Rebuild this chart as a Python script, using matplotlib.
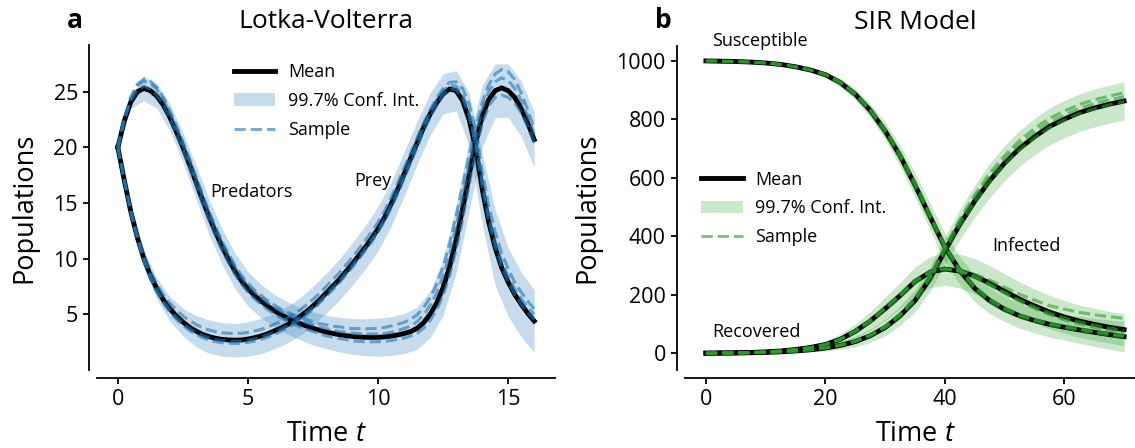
import numpy as np
import matplotlib as mpl
import matplotlib.pyplot as plt

mpl.rcParams['font.family'] = ['Open Sans', 'DejaVu Sans']
mpl.rcParams['mathtext.fontset'] = 'custom'
mpl.rcParams['mathtext.rm'] = 'Open Sans'
mpl.rcParams['mathtext.it'] = 'Open Sans:italic'

# Lotka-Volterra means, t = 0 .. 16 step 0.25
lv_t = np.arange(0, 16.01, 0.25)
pred_mean = [20.0, 22.4, 24.1, 25.0, 25.3, 25.1, 24.6, 23.8, 22.7, 21.4, 20.0, 18.5, 16.9, 15.3, 13.8, 12.4,
             11.1, 9.95, 8.9, 8.0, 7.3, 6.7, 6.2, 5.75, 5.35, 5.0, 4.7, 4.42, 4.17, 3.95, 3.75, 3.57,
             3.42, 3.29, 3.18, 3.09, 3.02, 2.97, 2.94, 2.93, 2.94, 2.98, 3.05, 3.15, 3.28, 3.45, 3.75, 4.25,
             5.0, 6.0, 7.4, 9.3, 11.7, 14.5, 17.5, 20.4, 22.8, 24.3, 25.1, 25.35, 25.1, 24.5, 23.5, 22.2,
             20.7]
prey_mean = [20.0, 17.0, 14.2, 11.9, 10.0, 8.5, 7.3, 6.3, 5.5, 4.85, 4.3, 3.85, 3.5, 3.2, 3.0, 2.85,
             2.75, 2.7, 2.68, 2.7, 2.78, 2.9, 3.05, 3.25, 3.5, 3.75, 4.05, 4.4, 4.8, 5.25, 5.75, 6.3,
             6.9, 7.5, 8.1, 8.8, 9.5, 10.25, 11.0, 11.8, 12.7, 13.7, 14.9, 16.2, 17.6, 19.0, 20.4, 21.8,
             23.0, 24.0, 24.8, 25.25, 25.1, 24.2, 22.5, 19.9, 16.3, 13.3, 11.0, 9.2, 7.9, 6.8, 5.9, 5.1,
             4.4]

# sample offsets from the mean, same time grid
pred_offsets = [
    [0, 0.2, 0.45, 0.7, 0.85, 0.85, 0.8, 0.7, 0.6, 0.55, 0.5, 0.5, 0.5, 0.5, 0.5, 0.5,
     0.5, 0.5, 0.5, 0.5, 0.5, 0.5, 0.5, 0.5, 0.5, 0.5, 0.5, 0.55, 0.55, 0.6, 0.6, 0.6,
     0.65, 0.65, 0.7, 0.7, 0.7, 0.75, 0.75, 0.8, 0.8, 0.85, 0.9, 0.95, 1.0, 1.1, 1.2, 1.35,
     1.5, 1.7, 1.9, 2.1, 2.2, 2.1, 1.8, 1.4, 1.2, 1.3, 1.5, 1.65, 1.7, 1.6, 1.4, 1.2, 1.0],
    [0, 0.15, 0.35, 0.55, 0.65, 0.65, 0.6, 0.5, 0.4, 0.35, 0.3, 0.3, 0.3, 0.3, 0.3, 0.3,
     0.3, 0.3, 0.3, 0.3, 0.3, 0.3, 0.3, 0.3, 0.3, 0.3, 0.3, 0.3, 0.3, 0.3, 0.3, 0.3,
     0.3, 0.3, 0.3, 0.3, 0.3, 0.3, 0.3, 0.3, 0.3, 0.3, 0.35, 0.4, 0.45, 0.5, 0.6, 0.7,
     0.8, 0.9, 1.0, 1.1, 1.2, 1.1, 0.9, 0.7, 0.6, 0.7, 0.8, 0.9, 0.9, 0.8, 0.7, 0.6, 0.5],
    [0, 0.05, 0.1, 0.15, 0.2, 0.15, 0.1, 0.0, -0.1, -0.2, -0.25, -0.3, -0.3, -0.3, -0.3, -0.3,
     -0.3, -0.3, -0.3, -0.3, -0.3, -0.3, -0.3, -0.3, -0.3, -0.3, -0.3, -0.3, -0.3, -0.3, -0.3, -0.3,
     -0.35, -0.35, -0.35, -0.35, -0.4, -0.4, -0.4, -0.4, -0.4, -0.4, -0.4, -0.4, -0.4, -0.4, -0.45, -0.5,
     -0.55, -0.6, -0.7, -0.8, -0.9, -1.0, -0.9, -0.8, -0.7, -0.6, -0.6, -0.65, -0.6, -0.5, -0.4, -0.3, -0.2],
]
prey_offsets = [
    [0, 0.1, 0.2, 0.25, 0.3, 0.35, 0.4, 0.45, 0.5, 0.55, 0.55, 0.6, 0.6, 0.6, 0.6, 0.6,
     0.6, 0.6, 0.6, 0.6, 0.6, 0.6, 0.6, 0.6, 0.6, 0.6, 0.6, 0.6, 0.6, 0.6, 0.6, 0.6,
     0.6, 0.6, 0.6, 0.6, 0.6, 0.6, 0.6, 0.6, 0.6, 0.6, 0.6, 0.6, 0.55, 0.5, 0.45, 0.4,
     0.4, 0.45, 0.5, 0.6, 0.8, 1.1, 1.4, 1.6, 1.6, 1.5, 1.4, 1.3, 1.2, 1.1, 1.1, 1.1, 1.1],
    [0, 0, 0, -0.05, -0.1, -0.1, -0.1, -0.1, -0.1, -0.1, -0.1, -0.1, -0.1, -0.1, -0.1, -0.1,
     -0.1, -0.1, -0.1, -0.1, -0.1, -0.1, -0.1, -0.1, -0.1, -0.1, -0.1, -0.1, -0.1, -0.1, -0.1, -0.1,
     -0.1, -0.1, -0.1, -0.1, -0.1, -0.1, -0.1, -0.1, -0.1, -0.1, -0.1, -0.1, -0.1, -0.1, -0.05, 0.0,
     0.1, 0.2, 0.3, 0.35, 0.4, 0.5, 0.6, 0.7, 0.7, 0.6, 0.55, 0.5, 0.5, 0.5, 0.5, 0.55, 0.6],
    [0, -0.05, -0.1, -0.15, -0.2, -0.25, -0.3, -0.3, -0.3, -0.3, -0.3, -0.3, -0.3, -0.3, -0.3, -0.3,
     -0.3, -0.3, -0.3, -0.3, -0.3, -0.3, -0.3, -0.3, -0.3, -0.3, -0.3, -0.3, -0.3, -0.3, -0.3, -0.3,
     -0.3, -0.3, -0.3, -0.3, -0.3, -0.3, -0.3, -0.3, -0.3, -0.3, -0.35, -0.4, -0.4, -0.4, -0.4, -0.35,
     -0.3, -0.2, -0.1, 0.0, 0.1, 0.2, 0.3, 0.3, 0.2, 0.1, 0.05, 0.0, 0.0, 0.0, 0.0, 0.05, 0.1],
]

# band half widths, t = 0 .. 16 step 0.5
lv_tb = np.arange(0, 16.01, 0.5)
pred_hw = [0, 0.6, 1.1, 1.1, 1.2, 1.35, 1.5, 1.6, 1.6, 1.6, 1.55, 1.5, 1.45, 1.45, 1.45, 1.5, 1.5,
           1.55, 1.6, 1.65, 1.7, 1.75, 1.8, 1.9, 2.1, 2.5, 3.0, 3.2, 2.8, 2.4, 2.4, 2.5, 2.5]
prey_hw = [0, 0.6, 0.8, 0.95, 1.1, 1.25, 1.4, 1.5, 1.5, 1.5, 1.55, 1.6, 1.6, 1.65, 1.7, 1.75, 1.8,
           1.85, 1.9, 1.95, 2.0, 2.0, 2.0, 1.95, 1.9, 1.8, 1.8, 2.4, 3.2, 3.4, 3.1, 2.9, 2.8]

# SIR, t = 0 .. 70 step 2.5
sir_t = np.arange(0, 70.01, 2.5)
sus_mean = [999, 998, 997, 995, 992, 987, 979, 968, 952, 925, 885, 830, 760, 675, 575, 468, 362,
            282, 222, 180, 150, 128, 112, 99, 89, 80, 72, 64, 57]
rec_mean = [0, 0.3, 1, 2, 3, 5, 8, 12, 18, 27, 40, 60, 88, 128, 180, 255, 350,
            440, 520, 590, 650, 700, 740, 775, 800, 822, 838, 851, 862]
inf_mean = [1, 1.7, 2, 3, 5, 8, 13, 20, 30, 48, 75, 110, 152, 197, 245, 277, 288,
            281, 264, 240, 212, 185, 162, 141, 124, 110, 99, 89, 81]
sus_hw = [2, 2, 3, 3, 4, 5, 6, 8, 10, 14, 18, 24, 30, 36, 42, 46, 48,
          48, 46, 44, 42, 42, 42, 43, 44, 46, 48, 50, 52]
rec_hw = [1, 1, 1, 1, 2, 2, 3, 5, 10, 13, 18, 23, 28, 33, 38, 43, 48,
          52, 55, 58, 60, 61, 62, 63, 64, 64, 65, 65, 65]
inf_hw = [1, 1, 1, 2, 3, 4, 6, 9, 12, 18, 25, 32, 40, 45, 50, 53, 55,
          58, 60, 60, 60, 59, 58, 57, 56, 55, 55, 54, 54]
sus_offsets = [
    [0, 0, 0, 0, 0, 0, -1, -1, -2, -3, -4, -6, -8, -9, -10, -9, -7, -7, -6, -5, -4, -4, -3, -3, -2, -2, -2, -2, -2],
    [0, 0, 0, 0, 0, 0, 0, 0, 1, 1, 2, 2, 4, 4, 5, 4, 4, 4, 4, 3, 3, 2, 2, 2, 2, 2, 2, 2, 2],
    [0, 0, 0, 0, 0, 0, 1, 1, 2, 3, 4, 6, 7, 8, 9, 9, 8, 7, 7, 6, 6, 5, 4, 4, 4, 4, 4, 4, 4],
]
rec_offsets = [
    [0, 0, 0, 0, 0, 0, 0, 0, 1, 1, 2, 3, 5, 7, 10, 12, 15, 18, 22, 25, 25, 27, 28, 28, 28, 28, 28, 28, 28],
    [0, 0, 0, 0, 0, 0, 0, 0, 0, 1, 1, 2, 2, 4, 5, 6, 8, 10, 12, 13, 13, 14, 15, 15, 15, 15, 15, 15, 15],
    [0, 0, 0, 0, 0, 0, 0, 0, 0, 0, 0, -1, -1, -2, -2, -3, -4, -4, -5, -5, -5, -5, -5, -4, -4, -3, -3, -2, -2],
]
inf_offsets = [
    [0, 0, 0, 0, 0, 0, 0, 0, -1, -2, -2, -3, -4, -4, -5, -3, -2, 2, 6, 10, 14, 17, 20, 22, 27, 30, 33, 36, 39],
    [0, 0, 0, 0, 0, 0, 0, 0, 0, 0, 1, 1, 2, 2, 2, 2, 1, 0, -2, -2, -3, -3, -3, -3, -3, -2, -2, -2, -2],
    [0, 0, 0, 0, 0, 0, 0, 0, 1, 1, 3, 3, 5, 5, 5, 4, 2, 0, -5, -7, -8, -8, -8, -9, -10, -10, -10, -11, -11],
]


def drawModel(ax, t, means, tb, bands, samples, color):
    for lo, hi in bands:
        ax.fill_between(tb, lo, hi, color=color, alpha=0.25, lw=0, label='99.7% Conf. Int.')
    for m in means:
        ax.plot(t, m, color='black', lw=3.5, label='Mean')
    for s in samples:
        ax.plot(t, s, color=color, lw=2.2, ls='--', alpha=0.6, label='Sample')


def addLegend(ax, anchor):
    handles, labels = ax.get_legend_handles_labels()
    order = ['Mean', '99.7% Conf. Int.', 'Sample']
    picked = [handles[labels.index(name)] for name in order]
    ax.legend(picked, order, loc='upper left', bbox_to_anchor=anchor, frameon=False, fontsize=13,
              handlelength=2.3, handletextpad=0.7, labelspacing=0.6)


def styleAxes(ax):
    for side in ['top', 'right']:
        ax.spines[side].set_visible(False)
    for side in ['left', 'bottom']:
        ax.spines[side].set_position(('outward', 5.8))
        ax.spines[side].set_linewidth(1.3)
    ax.tick_params(labelsize=15.5, width=1.3, length=4.5)
    ax.set_xlabel('Time $t$', fontsize=19.5, labelpad=7)
    ax.set_ylabel('Populations', fontsize=19.5, labelpad=11)


fig = plt.figure(figsize=(11.35, 4.48), dpi=100)
ax1 = fig.add_axes([0.0855, 0.1741, 0.4035, 0.7254])
ax2 = fig.add_axes([0.6035, 0.1741, 0.4053, 0.7239])

# a: Lotka-Volterra
lv_bands = []
lv_samples = []
for mean, hw, offsets in [(pred_mean, pred_hw, pred_offsets), (prey_mean, prey_hw, prey_offsets)]:
    mean = np.array(mean)
    lv_bands.append((mean[::2] - np.array(hw), mean[::2] + np.array(hw)))
    for off in offsets:
        lv_samples.append(mean + np.array(off))
drawModel(ax1, lv_t, [pred_mean, prey_mean], lv_tb, lv_bands, lv_samples, '#1f77b4')
ax1.set_xlim(-0.8, 16.8)
ax1.set_ylim(0.0, 29.2)
ax1.set_xticks([0, 5, 10, 15])
ax1.set_yticks([5, 10, 15, 20, 25])
styleAxes(ax1)
ax1.set_title('Lotka-Volterra', fontsize=19, pad=12)
ax1.text(3.55, 16.0, 'Predators', fontsize=13, va='center')
ax1.text(9.1, 17.0, 'Prey', fontsize=13, va='center')
addLegend(ax1, (0.2635, 0.994))

# b: SIR
sir_bands = []
sir_samples = []
for mean, hw, offsets in [(sus_mean, sus_hw, sus_offsets), (inf_mean, inf_hw, inf_offsets),
                          (rec_mean, rec_hw, rec_offsets)]:
    mean = np.array(mean)
    sir_bands.append((mean - np.array(hw), mean + np.array(hw)))
    for off in offsets:
        sir_samples.append(mean + np.array(off))
drawModel(ax2, sir_t, [sus_mean, inf_mean, rec_mean], sir_t, sir_bands, sir_samples, '#2ca02c')
ax2.set_xlim(-3.5, 73.5)
ax2.set_ylim(-57, 1051)
ax2.set_xticks([0, 20, 40, 60])
ax2.set_yticks([0, 200, 400, 600, 800, 1000])
styleAxes(ax2)
ax2.set_title('SIR Model', fontsize=19, pad=12)
ax2.text(1.0, 1068, 'Susceptible', fontsize=13, va='center', clip_on=False)
ax2.text(1.0, 73, 'Recovered', fontsize=13, va='center')
ax2.text(47.9, 367, 'Infected', fontsize=13, va='center')
addLegend(ax2, (0.0, 0.665))

fig.text(0.066, 0.955, 'a', fontsize=19, fontweight='bold', ha='center', va='center')
fig.text(0.584, 0.955, 'b', fontsize=19, fontweight='bold', ha='center', va='center')

fig.savefig('out.png', dpi=100)
